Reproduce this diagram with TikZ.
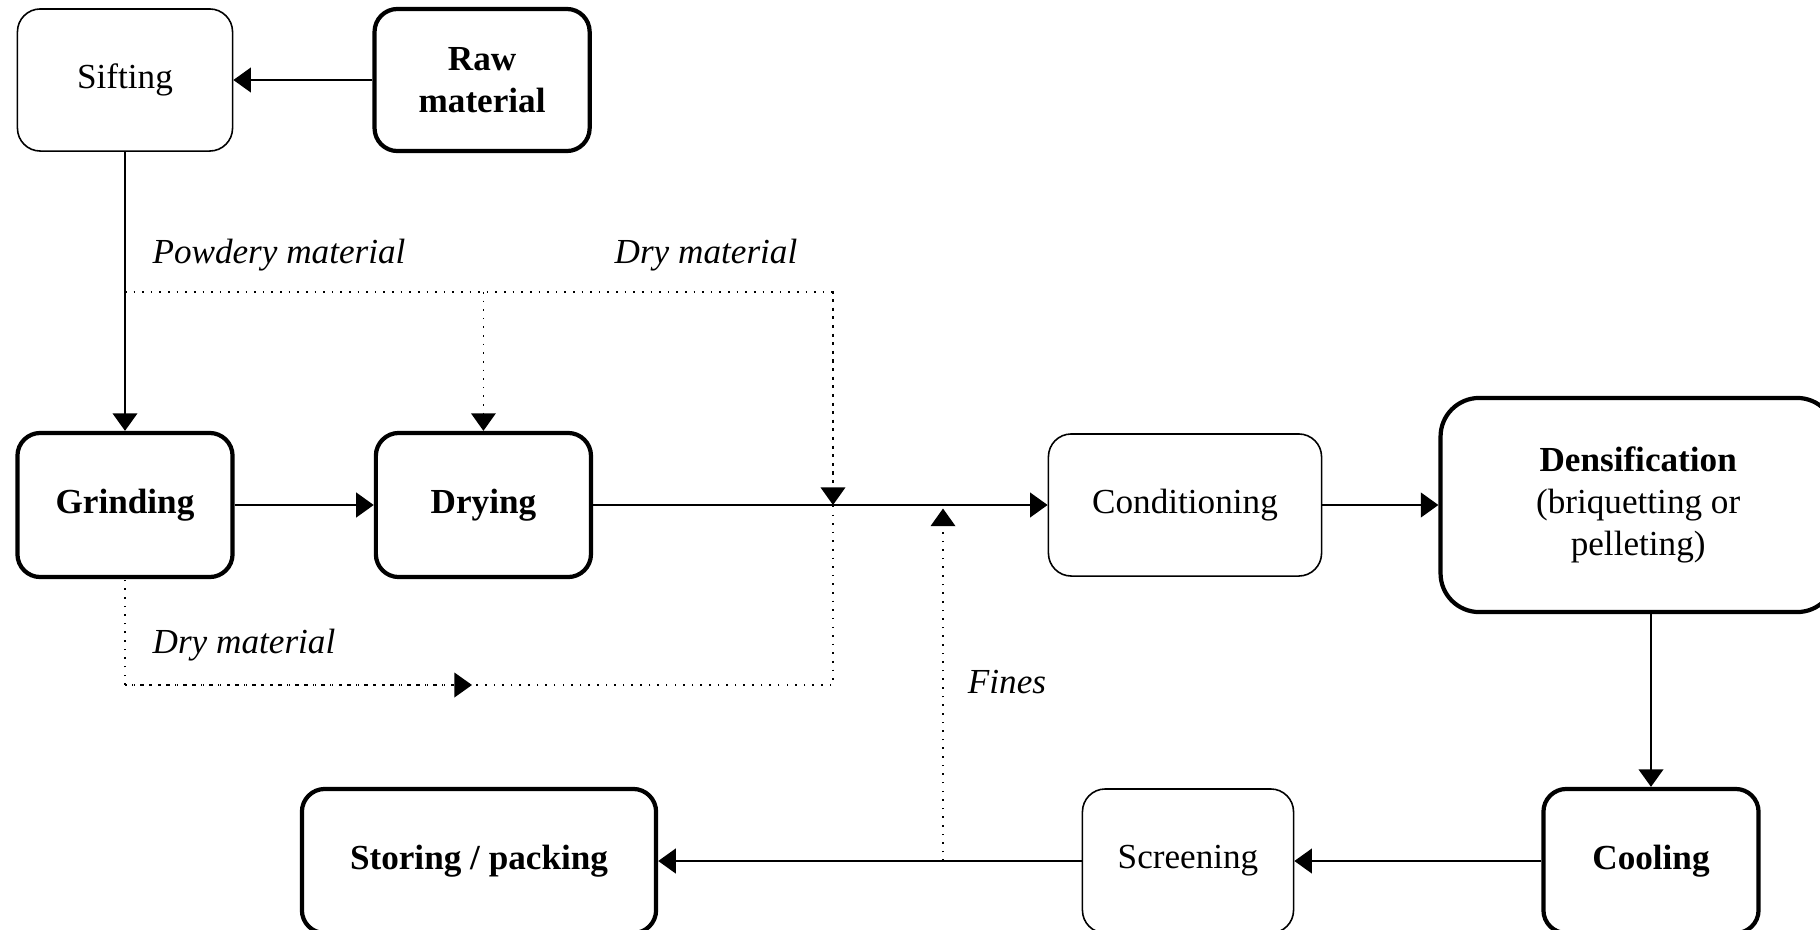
\documentclass[tikz,border=0pt]{standalone}
\usepackage{fontspec}
\setmainfont{Liberation Serif}
\usetikzlibrary{positioning, arrows.meta}
\tikzset{
    >={Triangle[length=5pt,width=7pt]},         % filled arrow heads
    node distance=1.39cm,                       % gap between neighbouring boxes
    stepthin/.style={draw, line width=0.45pt, rounded corners=6.5pt,
        minimum width=2.15cm, minimum height=1.42cm, align=center},
    stepthick/.style={stepthin, line width=1.2pt, font=\bfseries},
    flow/.style={->, line width=0.65pt},
    side/.style={dotted, line width=0.45pt},
    note/.style={font=\itshape},
}

\begin{document}
\begin{tikzpicture}[x=0.01cm, y=-0.01cm]

\useasboundingbox (0,0) rectangle (1820,930);
\clip (0,0) rectangle (1820,930);

% process steps
\node[stepthin] (sift) at (125,80) {Sifting};
\node[stepthick, right=of sift] (raw) {Raw\\material};
\node[stepthick, minimum height=1.44cm] (grind) at (125,505) {Grinding};
\node[stepthick, minimum height=1.44cm, right=of grind] (dry) {Drying};
\node[stepthin, minimum width=2.73cm] (cond) at (1185,505) {Conditioning};
\node[stepthick, font=\normalfont, minimum width=3.95cm, minimum height=2.14cm,
    rounded corners=11pt, right=1.16cm of cond] (dens)
    {\textbf{Densification}\\(briquetting or\\pelleting)};
\node[stepthick, minimum height=1.44cm] (cool) at (1651,861) {Cooling};
\node[stepthin, minimum width=2.11cm, minimum height=1.44cm] (screen) at (1188,861) {Screening};
\node[stepthick, minimum width=3.54cm, minimum height=1.44cm] (store) at (479,861) {Storing / packing};

% side streams
\coordinate (topl) at (125,292);
\coordinate (topr) at (833,292);
\coordinate (botr) at (833,685);
\coordinate (botl) at (125,685);
\coordinate (botmid) at (472,685);
\coordinate (finesfoot) at (943,861);

\node[note] (powdery) at (279,255) {Powdery material};
\node[note] (drytop) at (706,255) {Dry material};
\node[note] (drybot) at (244,645) {Dry material};
\node[note] (fineslbl) at (1007,682) {Fines};

% main line
\draw[flow] (raw) -- (sift);
\draw[flow] (sift) -- (grind);
\draw[flow] (grind) -- (dry);
\draw[flow] (dry) -- (cond);
\draw[flow] (cond) -- (dens);
\draw[flow] (dens.south -| cool.north) -- (cool.north);
\draw[flow] (cool) -- (screen);
\draw[flow] (screen) -- (store);

% dotted by-passes
\draw[side] (topl) -- (topr) -- (botr) -- (botl) -- (grind.south);
\draw[side, ->] (topl -| dry.north) -- (dry.north);
\draw[side, ->] (topr) -- (topr |- dry.east);
\draw[side, ->] (botl) -- (botmid);
\draw[side, ->] (finesfoot) -- ([yshift=-1pt]finesfoot |- cond.west);

\end{tikzpicture}
\end{document}
